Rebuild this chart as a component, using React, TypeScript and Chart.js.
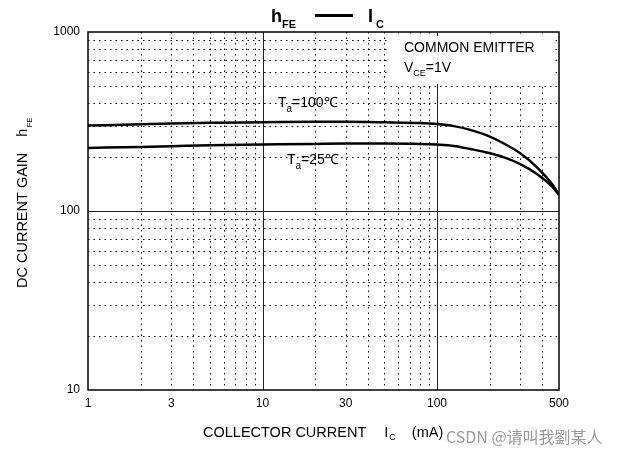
import { useEffect, useRef } from "react";
import { Chart, registerables } from "chart.js";

Chart.register(...registerables);

// Collector current (mA)
const currentMA = [1, 2, 3, 5, 10, 20, 30, 50, 80, 100, 125, 155, 190, 240, 300, 370, 460, 500];
// DC current gain hFE at Ta = 100°C
const gain100C = [300, 305, 308, 311, 313, 315, 315, 313, 310, 306, 298, 284, 266, 239, 210, 177, 140, 123];
// DC current gain hFE at Ta = 25°C
const gain25C = [225, 228, 230, 233, 235, 237, 238, 238, 237, 235, 231, 222, 213, 200, 183, 162, 136, 123];

const xGridValues = [2, 3, 4, 5, 6, 7, 8, 9, 10, 20, 30, 40, 50, 60, 70, 80, 90, 100, 200, 300, 400];
const xMajorValues = [10, 100];
const yGridValues = [20, 30, 40, 50, 60, 70, 80, 90, 100, 200, 300, 400, 500, 600, 700, 800, 900];
const yMajorValues = [100];
const xTickLabels = [1, 3, 10, 30, 100, 500];
const yTickLabels = [10, 100, 1000];

const FONT = "'Liberation Sans', Arial, Helvetica, sans-serif";

type Part = { t: string; size: number; bold?: boolean; dy?: number; gap?: number; font?: string };

function drawParts(ctx: CanvasRenderingContext2D, parts: Part[], x: number, y: number) {
  let cx = x;
  for (const p of parts) {
    cx += p.gap || 0;
    ctx.font = `${p.bold ? "bold " : ""}${p.size}px ${p.font || FONT}`;
    ctx.fillText(p.t, cx, y + (p.dy || 0));
    cx += ctx.measureText(p.t).width;
  }
}

const overlayPlugin = {
  id: "overlay",
  beforeDatasetsDraw(chart: any) {
    const { ctx, chartArea: a, scales } = chart;
    const xs = scales.x;
    const ys = scales.y;
    ctx.save();
    ctx.strokeStyle = "#000";
    // dotted minor grid
    ctx.lineWidth = 1;
    ctx.setLineDash([1.5, 4]);
    for (const v of xGridValues) {
      if (xMajorValues.includes(v)) continue;
      const px = Math.round(xs.getPixelForValue(v)) + 0.5;
      ctx.beginPath();
      ctx.moveTo(px, a.top);
      ctx.lineTo(px, a.bottom);
      ctx.stroke();
    }
    for (const v of yGridValues) {
      if (yMajorValues.includes(v)) continue;
      const py = Math.round(ys.getPixelForValue(v)) + 0.5;
      ctx.beginPath();
      ctx.moveTo(a.left, py);
      ctx.lineTo(a.right, py);
      ctx.stroke();
    }
    ctx.setLineDash([]);
    ctx.lineWidth = 1;
    ctx.strokeStyle = "#222";
    for (const v of xMajorValues) {
      const px = Math.round(xs.getPixelForValue(v)) + 0.5;
      ctx.beginPath();
      ctx.moveTo(px, a.top);
      ctx.lineTo(px, a.bottom);
      ctx.stroke();
    }
    for (const v of yMajorValues) {
      const py = Math.round(ys.getPixelForValue(v)) + 0.5;
      ctx.beginPath();
      ctx.moveTo(a.left, py);
      ctx.lineTo(a.right, py);
      ctx.stroke();
    }
    // legend box background
    ctx.fillStyle = "#fff";
    ctx.fillRect(389, 36, 166, 48);
    // border
    ctx.strokeStyle = "#000";
    ctx.lineWidth = 1.5;
    ctx.strokeRect(a.left, a.top, a.right - a.left, a.bottom - a.top);
    ctx.restore();
  },
  afterDatasetsDraw(chart: any) {
    const { ctx } = chart;
    ctx.save();
    ctx.fillStyle = "#000";
    ctx.textBaseline = "alphabetic";
    ctx.textAlign = "left";

    // title
    drawParts(ctx, [{ t: "h", size: 18, bold: true }, { t: "FE", size: 11, bold: true, dy: 6 }], 271, 22);
    ctx.fillRect(315, 14, 38, 3);
    drawParts(ctx, [{ t: "I", size: 18, bold: true }, { t: "C", size: 11, bold: true, dy: 6, gap: 3 }], 368, 22);

    // annotation box
    drawParts(ctx, [{ t: "COMMON EMITTER", size: 14 }], 404, 52);
    drawParts(ctx, [{ t: "V", size: 14 }, { t: "CE", size: 9, dy: 4 }, { t: "=1V", size: 14 }], 404, 72);

    // curve labels
    drawParts(ctx, [{ t: "T", size: 14 }, { t: "a", size: 10, dy: 5 }, { t: "=100℃", size: 14 }], 278, 107);
    drawParts(ctx, [{ t: "T", size: 14 }, { t: "a", size: 10, dy: 5 }, { t: "=25℃", size: 14 }], 287, 164);

    // x axis title
    drawParts(
      ctx,
      [
        { t: "COLLECTOR CURRENT", size: 14.5 },
        { t: "I", size: 14.5, gap: 18 },
        { t: "C", size: 9, dy: 3, gap: 1 },
        { t: "(mA)", size: 14.5, gap: 16 },
      ],
      203,
      437
    );

    // watermark
    ctx.fillStyle = "#9a9a9a";
    drawParts(ctx, [{ t: "CSDN @请叫我劉某人", size: 16, font: "'Noto Sans CJK SC', 'Noto Sans', sans-serif" }], 446, 443);

    // y axis title (rotated)
    ctx.fillStyle = "#000";
    ctx.translate(27, 288);
    ctx.rotate(-Math.PI / 2);
    drawParts(
      ctx,
      [
        { t: "DC CURRENT GAIN", size: 14.5 },
        { t: "h", size: 14.5, gap: 16 },
        { t: "FE", size: 8, dy: 5, gap: 1 },
      ],
      0,
      0
    );
    ctx.restore();
  },
};

export default function App() {
  const ref = useRef<HTMLCanvasElement | null>(null);
  useEffect(() => {
    if (!ref.current) return;
    const chart = new Chart(ref.current, {
      type: "line",
      data: {
        datasets: [
          {
            label: "Ta=100℃",
            data: currentMA.map((x, i) => ({ x, y: gain100C[i] })),
            borderColor: "#000",
            borderWidth: 2.5,
            pointRadius: 0,
            cubicInterpolationMode: "monotone",
            fill: false,
          },
          {
            label: "Ta=25℃",
            data: currentMA.map((x, i) => ({ x, y: gain25C[i] })),
            borderColor: "#000",
            borderWidth: 2.5,
            pointRadius: 0,
            cubicInterpolationMode: "monotone",
            fill: false,
          },
        ],
      },
      options: {
        responsive: false,
        animation: false,
        devicePixelRatio: 1,
        layout: { padding: { left: 0, right: 67, top: 32, bottom: 36 } },
        plugins: { legend: { display: false }, tooltip: { enabled: false }, title: { display: false } },
        scales: {
          x: {
            type: "logarithmic",
            min: 1,
            max: 500,
            grid: { display: false, drawTicks: false },
            border: { display: false },
            afterBuildTicks: (s: any) => {
              s.ticks = xTickLabels.map((v) => ({ value: v }));
            },
            afterFit: (s: any) => {
              s.height = 30;
            },
            ticks: {
              autoSkip: false,
              maxRotation: 0,
              padding: 6,
              color: "#000",
              font: { family: FONT, size: 12 },
              callback: (v: any) => String(v),
            },
          },
          y: {
            type: "logarithmic",
            min: 10,
            max: 1000,
            grid: { display: false, drawTicks: false },
            border: { display: false },
            afterBuildTicks: (s: any) => {
              s.ticks = yTickLabels.map((v) => ({ value: v }));
            },
            afterFit: (s: any) => {
              s.width = 88;
            },
            ticks: {
              autoSkip: false,
              padding: 8,
              color: "#000",
              font: { family: FONT, size: 12 },
              callback: (v: any) => String(v),
            },
          },
        },
      } as any,
      plugins: [overlayPlugin],
    });
    return () => chart.destroy();
  }, []);
  return (
    <div style={{ position: "absolute", left: 0, top: 0, width: 626, height: 456, background: "#fff" }}>
      <canvas ref={ref} width={626} height={456} style={{ display: "block" }} />
    </div>
  );
}
